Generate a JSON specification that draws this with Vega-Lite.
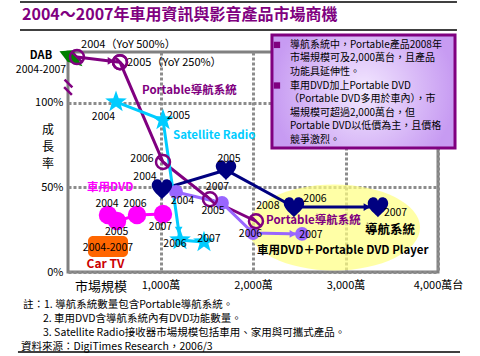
{
  "$schema": "https://vega.github.io/schema/vega-lite/v6.json",
  "width": 370,
  "height": 220,
  "autosize": {"type": "none"},
  "padding": {"left": 68, "top": 52, "right": 42, "bottom": 84},
  "background": "white",
  "config": {
    "font": "Noto Sans CJK TC",
    "view": {"stroke": "#808080", "strokeWidth": 3}
  },
  "datasets": {
    "series": [
      {"s": "DAB", "yr": 2004, "x": 97, "y": 127},
      {"s": "DAB", "yr": 2005, "x": 562, "y": 124},
      {"s": "Portable導航系統", "yr": 2005, "x": 562, "y": 124},
      {"s": "Portable導航系統", "yr": 2006, "x": 1027, "y": 65},
      {"s": "Portable導航系統", "yr": 2007, "x": 1535, "y": 43},
      {"s": "Portable導航系統", "yr": 2008, "x": 2032, "y": 30},
      {"s": "車用DVD+Portable DVD Player", "yr": 2004, "x": 1168, "y": 47.3},
      {"s": "車用DVD+Portable DVD Player", "yr": 2005, "x": 1665, "y": 40.8},
      {"s": "車用DVD+Portable DVD Player", "yr": 2006, "x": 2000, "y": 23},
      {"s": "車用DVD+Portable DVD Player", "yr": 2007, "x": 2530, "y": 22.5},
      {"s": "導航系統", "yr": 2004, "x": 1016, "y": 49},
      {"s": "導航系統", "yr": 2005, "x": 1708, "y": 60.3},
      {"s": "導航系統", "yr": 2006, "x": 2443, "y": 38.4},
      {"s": "導航系統", "yr": 2007, "x": 3351, "y": 38.4},
      {"s": "車用DVD", "yr": 2004, "x": 432, "y": 33.7},
      {"s": "車用DVD", "yr": 2005, "x": 530, "y": 30.1},
      {"s": "車用DVD", "yr": 2006, "x": 746, "y": 33.7},
      {"s": "車用DVD", "yr": 2007, "x": 1027, "y": 34.3},
      {"s": "Satellite Radio", "yr": 2004, "x": 519, "y": 100.5},
      {"s": "Satellite Radio", "yr": 2005, "x": 1027, "y": 89.8},
      {"s": "Satellite Radio", "yr": 2006, "x": 1211, "y": 18.9},
      {"s": "Satellite Radio", "yr": 2007, "x": 1470, "y": 17.7}
    ],
    "arrows": [
      {"s": "DAB", "d": "right", "x": 465, "y": 124.7},
      {"s": "導航系統", "d": "right", "x": 3232, "y": 38.4},
      {"s": "車用DVD+Portable DVD Player", "d": "right", "x": 2432, "y": 22.5},
      {"s": "Satellite Radio", "d": "down", "x": 1196, "y": 24.8}
    ],
    "years": [
      {"s": "Satellite Radio", "t": "2004", "x": 384, "y": 91.6},
      {"s": "Satellite Radio", "t": "2005", "x": 1195, "y": 92.2},
      {"s": "Satellite Radio", "t": "2006", "x": 1157, "y": 16.5},
      {"s": "Satellite Radio", "t": "2007", "x": 1524, "y": 19.5},
      {"s": "Portable導航系統", "t": "2006", "x": 800, "y": 66.8},
      {"s": "Portable導航系統", "t": "2007", "x": 1616, "y": 50.2},
      {"s": "Portable導航系統", "t": "2008", "x": 2160, "y": 38.9},
      {"s": "導航系統", "t": "2004", "x": 832, "y": 56.1},
      {"s": "導航系統", "t": "2005", "x": 1741, "y": 66.8},
      {"s": "導航系統", "t": "2006", "x": 2670, "y": 43.1},
      {"s": "導航系統", "t": "2007", "x": 3541, "y": 35},
      {"s": "車用DVD+Portable DVD Player", "t": "2004", "x": 1238, "y": 42},
      {"s": "車用DVD+Portable DVD Player", "t": "2005", "x": 1568, "y": 36},
      {"s": "車用DVD+Portable DVD Player", "t": "2006", "x": 1973, "y": 22.5},
      {"s": "車用DVD+Portable DVD Player", "t": "2007", "x": 2627, "y": 21.9},
      {"s": "車用DVD", "t": "2004", "x": 422, "y": 40},
      {"s": "車用DVD", "t": "2006", "x": 724, "y": 40},
      {"s": "車用DVD", "t": "2005", "x": 526, "y": 23.6},
      {"s": "車用DVD", "t": "2007", "x": 1000, "y": 26.6},
      {"s": "Car TV", "t": "2004-2007", "x": 432, "y": 14.2},
      {"s": "DAB", "t": "2004-2007", "x": -292, "y": 119.5}
    ],
    "yoy": [
      {"t": "2004（YoY 500%）", "x": 141, "y": 134.2},
      {"t": "2005（YoY 250%）", "x": 638, "y": 123.5}
    ],
    "names": [
      {"s": "Portable導航系統", "t": "Portable導航系統", "x": 800, "y": 107},
      {"s": "Portable導航系統", "t": "Portable導航系統", "x": 2141, "y": 30.2},
      {"s": "Satellite Radio", "t": "Satellite Radio", "x": 1135, "y": 80.4},
      {"s": "車用DVD", "t": "車用DVD", "x": 205, "y": 49.8}
    ],
    "blacknames": [
      {"t": "導航系統", "x": 3211, "y": 24.8, "f": 12.5},
      {"t": "車用DVD＋Portable DVD Player", "x": 2043, "y": 12.4, "f": 11.5}
    ],
    "zone": [{"x": 2876, "y": 26.3}],
    "leaf": [{"x": 32, "y": 127}],
    "brk": [{"x": 5, "y": 111.4}, {"x": 0, "y": 107}],
    "box": [{"x": 2205, "x2": 4184, "y": 73.3, "y2": 140}],
    "cartv": [{"x": 216, "x2": 649, "y": 8.9, "y2": 21.3}],
    "rules": [
      {"x": -519, "x2": 4205, "y": 159.6},
      {"x": -519, "x2": 4205, "y": 143},
      {"x": -541, "x2": 4238, "y": -47.3}
    ],
    "boxtext": [
      {"t": "導航系統中，Portable產品2008年", "x": 2400, "y": 134.2},
      {"t": "市場規模可及2,000萬台，且產品", "x": 2400, "y": 126.2},
      {"t": "功能具延伸性。", "x": 2400, "y": 118.2},
      {"t": "車用DVD加上Portable DVD", "x": 2400, "y": 110.2},
      {"t": "（Portable DVD多用於車內），市", "x": 2390, "y": 102.2},
      {"t": "場規模可超過2,000萬台，但", "x": 2400, "y": 94.2},
      {"t": "Portable DVD以低價為主，且價格", "x": 2400, "y": 86.2},
      {"t": "競爭激烈。", "x": 2400, "y": 78.2}
    ],
    "bullets": [{"x": 2259, "y": 134.2}, {"x": 2259, "y": 110.2}],
    "notes": [
      {"t": "註：1. 導航系統數量包含Portable導航系統。", "x": -486, "y": -19.5},
      {"t": "2. 車用DVD含導航系統內有DVD功能數量。", "x": -270, "y": -27.8},
      {"t": "3. Satellite Radio接收器市場規模包括車用、家用與可攜式產品。", "x": -270, "y": -36.1},
      {"t": "資料來源：DigiTimes Research，2006/3", "x": -508, "y": -44.3}
    ],
    "titles": [
      {"t": "2004～2007年車用資訊與影音產品市場商機", "x": -497, "y": 151.9}
    ],
    "axislabels": [
      {"t": "市場規模", "x": 357, "y": -8.9}
    ],
    "ylabel": [
      {"t": "成\n長\n率", "x": -216, "y": 86.9}
    ]
  },
  "encoding": {
    "x": {
      "field": "x", "type": "quantitative",
      "scale": {"domain": [0, 4000], "nice": false, "zero": false},
      "axis": {
        "title": null, "values": [1000, 2000, 3000, 4000],
        "labelExpr": "datum.value == 4000 ? '4,000萬台' : format(datum.value, ',') + '萬'",
        "domain": false, "ticks": false, "labelPadding": 7, "labelFontSize": 11,
        "labelColor": "#000000", "labelFlush": false, "labelOverlap": false,
        "grid": true, "gridColor": "#8c8c8c", "gridDash": [3, 2], "gridWidth": 3
      }
    },
    "y": {
      "field": "y", "type": "quantitative",
      "scale": {"domain": [0, 130], "nice": false, "zero": false},
      "axis": {
        "title": null, "values": [0, 50, 100],
        "labelExpr": "datum.value + '%'",
        "domain": false, "ticks": false, "labelPadding": 5, "labelFontSize": 11,
        "labelColor": "#000000", "labelFlush": false, "labelOverlap": false,
        "grid": true, "gridColor": "#8c8c8c", "gridDash": [3, 2], "gridWidth": 3
      }
    }
  },
  "layer": [
    {
      "data": {"name": "zone"},
      "mark": {"type": "point", "shape": "M-1,0A1,0.5,0,1,1,1,0A1,0.5,0,1,1,-1,0Z", "filled": true, "color": "#FFFF80", "opacity": 0.7, "size": 29584}
    },
    {
      "data": {"name": "box"},
      "mark": {"type": "rect", "stroke": "#800080", "strokeWidth": 3,
        "fill": {"gradient": "radial", "stops": [{"offset": 0, "color": "#F3E8FF"}, {"offset": 1, "color": "#C79BF2"}]}},
      "encoding": {"x2": {"field": "x2"}, "y2": {"field": "y2"}}
    },
    {
      "data": {"name": "rules"},
      "mark": {"type": "rule", "color": "#000000", "strokeWidth": 1.5},
      "encoding": {"x2": {"field": "x2"}}
    },
    {
      "data": {"name": "cartv"},
      "mark": {"type": "rect", "color": "#FF6600", "cornerRadius": 5},
      "encoding": {"x2": {"field": "x2"}, "y2": {"field": "y2"}}
    },
    {
      "data": {"name": "leaf"},
      "mark": {"type": "point", "shape": "M-1,-0.5L0.2,-0.6L1,0.8L-0.3,0.4Z", "filled": true, "color": "#008000", "opacity": 1, "size": 529}
    },
    {
      "data": {"name": "brk"},
      "mark": {"type": "point", "shape": "stroke", "angle": 45, "filled": false, "color": "#800080", "strokeWidth": 2.5, "size": 121, "opacity": 1}
    },
    {
      "data": {"name": "series"},
      "mark": {"type": "line", "strokeWidth": 3},
      "encoding": {
        "color": {"field": "s", "type": "nominal", "legend": null,
          "scale": {"domain": ["DAB", "Portable導航系統", "車用DVD+Portable DVD Player", "導航系統", "車用DVD", "Satellite Radio"],
                    "range": ["#800080", "#800080", "#9966FF", "#000080", "#FF00FF", "#00CCFF"]}},
        "detail": {"field": "s"},
        "order": {"field": "yr", "type": "ordinal"},
        "strokeWidth": {"condition": {"test": "datum.s === '車用DVD'", "value": 6}, "value": 3}
      }
    },
    {
      "data": {"name": "arrows"},
      "mark": {"type": "point", "filled": true, "opacity": 1, "size": 60},
      "encoding": {
        "color": {"field": "s", "type": "nominal", "legend": null},
        "shape": {"field": "d", "type": "nominal", "legend": null,
          "scale": {"domain": ["right", "down"], "range": ["triangle-right", "triangle-down"]}}
      }
    },
    {
      "data": {"name": "series"},
      "transform": [{"filter": "datum.s === '車用DVD+Portable DVD Player'"}],
      "mark": {"type": "point", "shape": "circle", "filled": true, "color": "#9966FF", "opacity": 1, "size": 190}
    },
    {
      "data": {"name": "series"},
      "transform": [{"filter": "datum.s === '車用DVD'"}],
      "mark": {"type": "point", "shape": "circle", "filled": true, "color": "#FF00FF", "opacity": 1, "size": 340}
    },
    {
      "data": {"name": "series"},
      "transform": [{"filter": "datum.s === '導航系統'"}],
      "mark": {"type": "point", "filled": true, "color": "#000080", "opacity": 1, "size": 420,
        "shape": "M0,1C-0.2,0.7,-1,0.2,-1,-0.35C-1,-0.75,-0.7,-0.95,-0.45,-0.95C-0.2,-0.95,-0.05,-0.8,0,-0.6C0.05,-0.8,0.2,-0.95,0.45,-0.95C0.7,-0.95,1,-0.75,1,-0.35C1,0.2,0.2,0.7,0,1Z"}
    },
    {
      "data": {"name": "series"},
      "transform": [{"filter": "datum.s === 'Satellite Radio'"}],
      "mark": {"type": "point", "filled": true, "color": "#00CCFF", "opacity": 1, "size": 520,
        "shape": "M0,-1L0.236,-0.324L0.951,-0.309L0.382,0.124L0.588,0.809L0,0.4L-0.588,0.809L-0.382,0.124L-0.951,-0.309L-0.236,-0.324Z"}
    },
    {
      "data": {"name": "series"},
      "transform": [{"filter": "datum.s === 'DAB' || datum.s === 'Portable導航系統'"}],
      "mark": {"type": "point", "filled": false, "color": "#800080", "strokeWidth": 2.5, "opacity": 1, "size": 196,
        "shape": "M-1,0A1,1,0,1,1,1,0A1,1,0,1,1,-1,0ZM-0.7,-0.7L0.7,0.7"}
    },
    {
      "data": {"name": "years"},
      "mark": {"type": "text", "align": "center", "baseline": "middle", "fontSize": 10.5, "color": "#000000"},
      "encoding": {"text": {"field": "t"}}
    },
    {
      "data": {"name": "yoy"},
      "mark": {"type": "text", "align": "left", "baseline": "middle", "fontSize": 11, "color": "#000000"},
      "encoding": {"text": {"field": "t"}}
    },
    {
      "data": {"name": "names"},
      "mark": {"type": "text", "align": "left", "baseline": "middle", "fontSize": 11.5, "fontWeight": "bold"},
      "encoding": {"text": {"field": "t"}, "color": {"field": "s", "type": "nominal", "legend": null}}
    },
    {
      "data": {"name": "blacknames"},
      "mark": {"type": "text", "align": "left", "baseline": "middle", "fontWeight": "bold", "color": "#000000"},
      "encoding": {"text": {"field": "t"}, "size": {"field": "f", "type": "quantitative", "scale": null, "legend": null}}
    },
    {
      "data": {"values": [{"t": "DAB", "x": -292, "y": 127.7}]},
      "mark": {"type": "text", "align": "center", "baseline": "middle", "fontSize": 11, "fontWeight": "bold", "color": "#000000"},
      "encoding": {"text": {"field": "t"}}
    },
    {
      "data": {"values": [{"t": "Car TV", "x": 405, "y": 4.7}]},
      "mark": {"type": "text", "align": "center", "baseline": "middle", "fontSize": 12, "fontWeight": "bold", "color": "#CC0000"},
      "encoding": {"text": {"field": "t"}}
    },
    {
      "data": {"name": "bullets"},
      "mark": {"type": "point", "shape": "square", "filled": true, "color": "#800080", "opacity": 1, "size": 40}
    },
    {
      "data": {"name": "boxtext"},
      "mark": {"type": "text", "align": "left", "baseline": "middle", "fontSize": 10, "color": "#000000"},
      "encoding": {"text": {"field": "t"}}
    },
    {
      "data": {"name": "notes"},
      "mark": {"type": "text", "align": "left", "baseline": "middle", "fontSize": 10.5, "color": "#000000"},
      "encoding": {"text": {"field": "t"}}
    },
    {
      "data": {"name": "titles"},
      "mark": {"type": "text", "align": "left", "baseline": "middle", "fontSize": 16, "fontWeight": "bold", "color": "#800080"},
      "encoding": {"text": {"field": "t"}}
    },
    {
      "data": {"name": "axislabels"},
      "mark": {"type": "text", "align": "center", "baseline": "middle", "fontSize": 13, "color": "#000000"},
      "encoding": {"text": {"field": "t"}}
    },
    {
      "data": {"name": "ylabel"},
      "mark": {"type": "text", "align": "center", "baseline": "top", "fontSize": 12, "lineBreak": "\n", "lineHeight": 17, "color": "#000000"},
      "encoding": {"text": {"field": "t"}}
    }
  ]
}
